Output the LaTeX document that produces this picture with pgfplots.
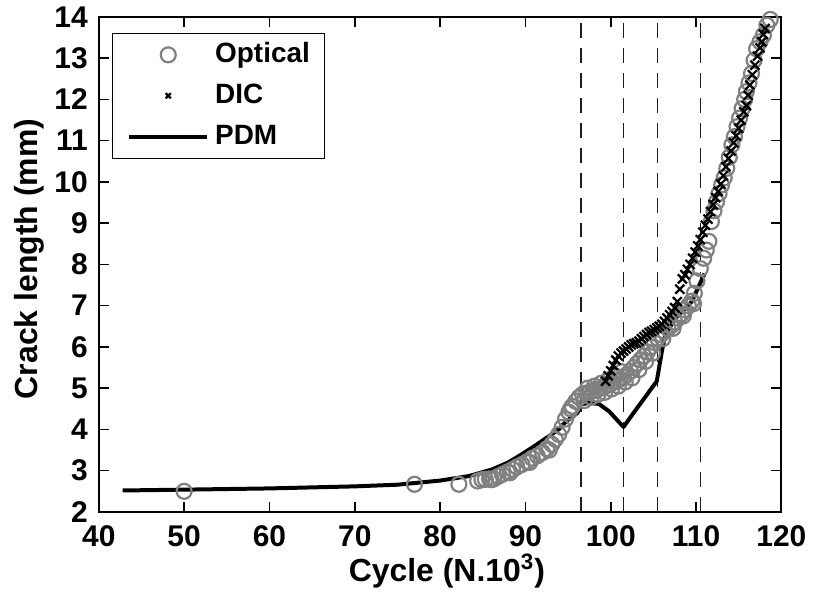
\documentclass[border=0pt]{standalone}
\usepackage{fontspec}
\setmainfont{Liberation Sans}
\usepackage{pgfplots}
\pgfplotsset{compat=1.18}
\definecolor{optgray}{RGB}{128,128,128}
\definecolor{dashc}{RGB}{30,30,30}
\begin{document}
\begin{tikzpicture}
\begin{axis}[name=ax, scale only axis, width=342pt, height=248pt,
  xmin=40, xmax=120, ymin=2, ymax=14,
  xtick={40,50,...,120}, ytick={2,3,...,14},
  minor tick num=0,
  tick align=inside, major tick length=5pt,
  axis line style={line width=1pt},
  every tick/.style={black, line width=0.8pt},
  /pgf/number format/assume math mode=true,
  tick label style={font=\fontsize{15}{18}\selectfont\bfseries},
  xticklabel style={yshift=-3.5pt},
  yticklabel style={xshift=-2pt},
  xlabel={Cycle (N.10\textsuperscript{3})},
  ylabel={Crack length (mm)},
  every axis x label/.style={at={(axis description cs:0.51,-0.119)}, anchor=center, font=\fontsize{16}{19}\selectfont\bfseries},
  every axis y label/.style={at={(axis description cs:-0.1023,0.511)}, rotate=90, anchor=center, font=\fontsize{16}{19}\selectfont\bfseries},
  legend image code/.code={\draw[mark repeat=2,mark phase=2,#1] plot coordinates {(0pt,0pt) (19.5pt,0pt) (39pt,0pt)};},
  legend cell align=left,
  legend style={at={(rel axis cs:0.019,0.968)}, anchor=north west, draw=black, line width=0.6pt, fill=white,
    inner xsep=7.5pt, inner ysep=0.5pt, column sep=3pt,
    font=\fontsize{14}{17}\selectfont\bfseries,
    nodes={inner xsep=0pt, inner ysep=3pt, text height=11pt, text depth=3.5pt}},
]
% vertical dashed lines
\addplot[forget plot, dashc, line width=0.75pt, dash pattern=on 7.5pt off 5pt] coordinates {(96.5,2) (96.5,14)};
\addplot[forget plot, dashc, line width=0.75pt, dash pattern=on 7.5pt off 5pt] coordinates {(101.5,2) (101.5,14)};
\addplot[forget plot, dashc, line width=0.75pt, dash pattern=on 7.5pt off 5pt] coordinates {(105.5,2) (105.5,14)};
\addplot[forget plot, dashc, line width=0.75pt, dash pattern=on 7.5pt off 5pt] coordinates {(110.5,2) (110.5,14)};
% Optical
\addplot[only marks, mark=o, mark size=3.75pt, mark options={draw=optgray, line width=1.1pt}] coordinates {
(50,2.50) (77,2.67) (82.2,2.67)
(84.4,2.75) (84.9,2.78) (85.3,2.79) (85.8,2.80) (86.3,2.80) (86.8,2.86) (87.3,2.91) (87.9,2.97)
(88.5,3.03) (89.0,3.09) (89.6,3.15) (90.2,3.22) (90.8,3.30) (91.4,3.36) (92.0,3.44) (92.5,3.53)
(93.1,3.64) (93.5,3.76) (93.9,3.88) (94.3,4.05) (94.7,4.25) (95.1,4.42) (95.5,4.56) (95.9,4.68)
(96.3,4.78) (96.7,4.85) (97.1,4.88) (97.5,4.90) (97.9,4.93) (98.3,4.96) (98.7,4.99) (99.1,5.02)
(99.5,5.06) (99.9,5.10) (100.3,5.14) (100.7,5.18) (101.1,5.22) (101.5,5.26) (101.9,5.33) (102.3,5.41)
(102.7,5.50) (103.1,5.60) (103.5,5.69) (103.9,5.78) (104.3,5.88) (104.7,6.00) (105.1,6.11) (105.5,6.21)
(105.9,6.30) (106.3,6.38) (106.7,6.45) (107.1,6.52) (107.5,6.60) (107.9,6.70) (108.3,6.80) (108.7,6.90)
(109.1,7.00) (109.5,7.11) (109.8,7.30) (110.1,7.60) (110.5,7.90) (110.9,8.15) (111.2,8.35) (111.5,8.56)
(111.8,9.04) (112.1,9.30) (112.4,9.52) (112.7,9.72) (113.0,9.93) (113.3,10.10) (113.6,10.33) (113.9,10.60)
(114.2,10.90) (114.5,11.10) (114.8,11.34) (115.1,11.55) (115.4,11.78) (115.7,12.00) (115.9,12.19) (116.2,12.40)
(116.5,12.63) (116.8,12.95) (117.1,13.23) (117.5,13.40) (117.9,13.56) (118.3,13.80) (118.7,13.94)
(86.0,2.78) (88.2,2.95) (90.5,3.20) (92.8,3.50) (95.3,4.50) (96.9,4.70) (97.7,4.78) (98.5,4.85)
(99.3,4.90) (100.1,4.98) (100.9,5.05) (101.7,5.15) (102.5,5.25) (103.3,5.45) (104.1,5.65) (104.9,5.85)
(106.1,6.20) (107.3,6.45) (108.5,6.75) (109.7,7.05)
(97.3,5.00) (98.1,5.05) (98.9,5.12) (99.7,5.20) (100.5,5.30) (101.3,5.40)
};
\addlegendentry{Optical}
% DIC
\addplot[only marks, mark=x, mark size=3.2pt, mark options={draw=black, line width=1.1pt},
  legend image post style={mark size=1.8pt}] coordinates {
(99.4,5.17) (99.7,5.30) (100.0,5.42) (100.3,5.55) (100.6,5.68) (100.9,5.78) (101.2,5.85) (101.5,5.90)
(101.8,5.95) (102.1,6.00) (102.4,6.05) (102.7,6.08) (103.0,6.10) (103.3,6.14) (103.6,6.20) (103.9,6.25)
(104.2,6.30) (104.5,6.35) (104.8,6.38) (105.1,6.42) (105.4,6.46) (105.7,6.50) (106.0,6.55) (106.3,6.62)
(106.6,6.70) (106.9,6.78) (107.2,6.86) (107.5,6.95) (107.8,7.10) (108.1,7.40) (108.4,7.65) (108.7,7.75)
(109.0,7.88) (109.3,8.00) (109.6,8.15) (109.9,8.30) (110.2,8.45) (110.5,8.60) (110.8,8.78) (111.1,8.95)
(111.4,9.10) (111.7,9.28) (112.0,9.45) (112.3,9.62) (112.6,9.77) (112.9,9.95) (113.2,10.15) (113.5,10.37)
(113.8,10.57) (114.1,10.75) (114.4,10.95) (114.7,11.12) (115.0,11.30) (115.3,11.50) (115.6,11.70) (115.9,11.85)
(116.1,12.10) (116.3,12.35) (116.6,12.60) (116.9,12.83) (117.2,13.05) (117.5,13.25) (117.7,13.40) (117.9,13.58)
(118.1,13.72)
};
\addlegendentry{DIC}
% PDM
\addplot[black, line width=2pt, line join=round] coordinates {
(42.8,2.52) (50,2.54) (60,2.57) (70,2.62) (75,2.66) (80,2.76) (83.4,2.87) (86.1,3.03) (88,3.20)
(89.2,3.35) (90.8,3.56) (92.5,3.80) (93.9,4.00) (94.7,4.18) (96.1,4.40) (96.5,4.61) (97.4,4.64)
(98.6,4.62) (99.8,4.44) (101.5,4.06) (102.5,4.35) (103.7,4.69) (105.4,5.17) (106.0,5.90) (106.4,6.30)
(107.6,6.70) (109.5,7.10) (111.0,7.78)
};
\addlegendentry{PDM}
\end{axis}
\path ([shift={(-49.5pt,-45pt)}]ax.south west) rectangle ([shift={(15pt,7.5pt)}]ax.north east);
\end{tikzpicture}
\end{document}
